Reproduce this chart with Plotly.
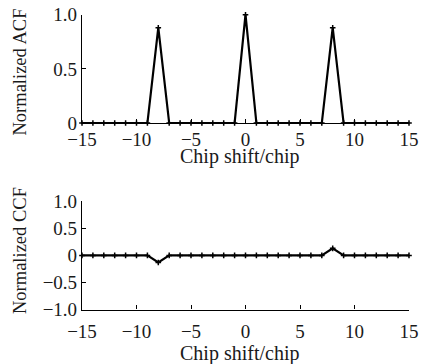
import plotly.graph_objects as go

shift = list(range(-15, 16))
acf_peaks = {-8: 0.88, 0: 1.0, 8: 0.88}
ccf_peaks = {-8: -0.13, 8: 0.13}
acf = [acf_peaks.get(s, 0.0) for s in shift]
ccf = [ccf_peaks.get(s, 0.0) for s in shift]

x_ticks = [-15, -10, -5, 0, 5, 10, 15]
acf_ticks = [0, 0.5, 1.0]
acf_ticktext = ["0", "0.5", "1.0"]
ccf_ticks = [-1.0, -0.5, 0, 0.5, 1.0]
ccf_ticktext = ["\u22121.0", "\u22120.5", "0", "0.5", "1.0"]

W, H = 422, 364
FONT = "Liberation Serif"
COL = "#1a1a1a"

fig = go.Figure()
line_style = dict(color="black", width=2.2)
marker_style = dict(symbol="cross-thin", size=4, line=dict(color="black", width=1.5), color="black")

fig.add_trace(go.Scatter(x=shift, y=acf, mode="lines+markers", line=line_style,
                         marker=marker_style, xaxis="x", yaxis="y", cliponaxis=False,
                         showlegend=False))
fig.add_trace(go.Scatter(x=shift, y=ccf, mode="lines+markers", line=line_style,
                         marker=marker_style, xaxis="x2", yaxis="y2", cliponaxis=False,
                         showlegend=False))

xd = [82 / W, 409 / W]
top_d = [(H - 123) / H, (H - 14.7) / H]
bot_d = [(H - 309.5) / H, (H - 201.3) / H]

axis_common = dict(showgrid=False, zeroline=False, showline=True, linecolor="black",
                   linewidth=1.2, ticks="inside", ticklen=4, tickwidth=1, tickcolor="black",
                   automargin=False,
                   tickfont=dict(family=FONT, size=19, color=COL))

fig.update_layout(
    template="none",
    width=W, height=H,
    margin=dict(l=0, r=0, t=0, b=0),
    paper_bgcolor="white", plot_bgcolor="white",
    font=dict(family=FONT, color=COL),
    xaxis=dict(domain=xd, range=[-15, 15], tickvals=x_ticks, anchor="y",
               ticklabelstandoff=-1, **axis_common),
    yaxis=dict(domain=top_d, range=[0, 1.0], tickvals=acf_ticks, ticktext=acf_ticktext,
               anchor="x", **axis_common),
    xaxis2=dict(domain=xd, range=[-15, 15], tickvals=x_ticks, anchor="y2",
                ticklabelstandoff=5, **axis_common),
    yaxis2=dict(domain=bot_d, range=[-1.0, 1.0], tickvals=ccf_ticks, ticktext=ccf_ticktext,
                anchor="x2", **axis_common),
)

ann = [
    dict(text="Chip shift/chip", x=239.5 / W, y=(H - 156) / H, size=20, angle=0),
    dict(text="Chip shift/chip", x=239.5 / W, y=(H - 353.5) / H, size=20, angle=0),
    dict(text="Normalized ACF", x=20 / W, y=(H - 72.5) / H, size=18.5, angle=-90),
    dict(text="Normalized CCF", x=20 / W, y=(H - 251) / H, size=18.5, angle=-90),
]
for a in ann:
    fig.add_annotation(text=a["text"], x=a["x"], y=a["y"], xref="paper", yref="paper",
                       xanchor="center", yanchor="middle", showarrow=False,
                       textangle=a["angle"], font=dict(family=FONT, size=a["size"], color=COL))

fig.write_html("out.html")
